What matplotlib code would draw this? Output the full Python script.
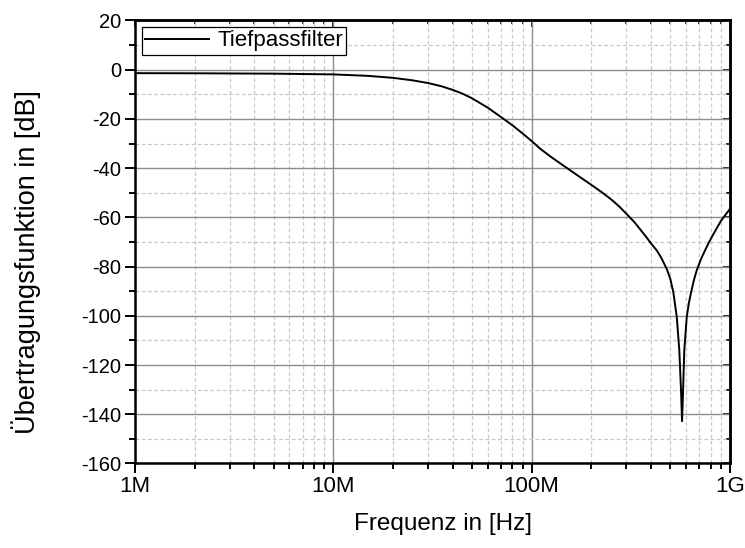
import matplotlib
matplotlib.use("Agg")
import matplotlib.pyplot as plt
from matplotlib.ticker import LogLocator, FixedLocator, FixedFormatter, MultipleLocator, NullFormatter

plt.rcParams["font.family"] = ["Liberation Sans", "DejaVu Sans"]
plt.rcParams["axes.unicode_minus"] = False

# Werte (Frequenz in Hz, Betrag in dB)
freq_hz = [1e6, 2e6, 5e6, 1e7, 1.5e7, 2e7, 2.5e7, 3e7, 3.5e7, 4e7, 4.5e7, 5e7,
           6e7, 7e7, 8e7, 9e7, 1e8, 1.1e8, 1.25e8, 1.46e8, 1.7e8, 2e8, 2.25e8,
           2.5e8, 2.75e8, 3e8, 3.3e8, 3.55e8, 3.8e8, 4e8, 4.27e8, 4.5e8, 4.8e8,
           5.0e8, 5.18e8, 5.39e8, 5.55e8, 5.66e8, 5.73e8, 5.8e8, 5.88e8, 6.05e8,
           6.2e8, 6.41e8, 6.6e8, 6.79e8, 7.1e8, 7.42e8, 7.8e8, 8.18e8, 9e8, 1e9]
gain_db = [-1.4, -1.45, -1.6, -1.9, -2.5, -3.3, -4.3, -5.4, -6.7, -8.2, -9.8, -11.6,
           -15.4, -19.2, -22.6, -25.9, -29.0, -32.0, -35.4, -39.2, -42.9, -46.8, -49.7,
           -52.5, -55.4, -58.5, -62.0, -65.2, -68.2, -70.6, -73.4, -76.4, -81.0,
           -85.0, -90.5, -100.5, -114.0, -130.0, -142.8, -130.0, -114.0, -100.5,
           -94.8, -89.3, -85.0, -81.6, -77.4, -74.0, -70.4, -67.3, -61.4, -56.5]

xticks = [1e6, 1e7, 1e8, 1e9]
xticklabels = ["1M", "10M", "100M", "1G"]
series_name = "Tiefpassfilter"

fig = plt.figure(figsize=(7.45, 5.48), dpi=100)
ax = fig.add_axes([0.1812, 0.1542, 0.7987, 0.8084])

ax.semilogx(freq_hz, gain_db, color="black", lw=1.4, label=series_name)

ax.set_xlim(1e6, 1e9)
ax.set_ylim(-160, 20)
ax.xaxis.set_major_locator(FixedLocator(xticks))
ax.xaxis.set_major_formatter(FixedFormatter(xticklabels))
ax.xaxis.set_minor_locator(LogLocator(base=10, subs=range(2, 10), numticks=20))
ax.xaxis.set_minor_formatter(NullFormatter())
ax.yaxis.set_major_locator(MultipleLocator(20))
ax.yaxis.set_minor_locator(MultipleLocator(10))

ax.grid(which="major", color="#8c8c8c", lw=1.0, ls="-")
ax.grid(which="minor", color="#c8c8c8", lw=0.9, ls=(0, (3, 2)))
ax.set_axisbelow(True)

for s in ax.spines.values():
    s.set_linewidth(1.8)

ax.tick_params(which="both", direction="out", width=1.4)
ax.tick_params(axis="x", labelsize=16, pad=2)
ax.tick_params(axis="y", labelsize=14.5, pad=3)
ax.tick_params(which="major", length=7)
ax.tick_params(which="minor", length=4)

# oben/rechts: kurze Striche nach innen, ohne Beschriftung
top = ax.secondary_xaxis("top", functions=(lambda v: v, lambda v: v))
top.xaxis.set_major_locator(FixedLocator(xticks))
top.xaxis.set_minor_locator(LogLocator(base=10, subs=range(2, 10), numticks=20))
top.tick_params(which="both", direction="in", labeltop=False, width=1.2)
top.tick_params(which="major", length=5)
top.tick_params(which="minor", length=3)
top.xaxis.set_major_formatter(NullFormatter())
top.xaxis.set_minor_formatter(NullFormatter())
top.spines["top"].set_linewidth(1.8)

right = ax.secondary_yaxis("right", functions=(lambda v: v, lambda v: v))
right.yaxis.set_major_locator(MultipleLocator(20))
right.yaxis.set_minor_locator(MultipleLocator(10))
right.tick_params(which="both", direction="in", labelright=False, width=1.2)
right.tick_params(which="major", length=5)
right.tick_params(which="minor", length=3)
right.spines["right"].set_linewidth(1.8)

ax.set_xlabel("Frequenz in [Hz]", fontsize=17.5)
ax.set_ylabel("Übertragungsfunktion in [dB]", fontsize=19.5)
ax.xaxis.set_label_coords(0.518, -0.112)
ax.yaxis.set_label_coords(-0.158, 0.455)

leg = ax.legend(loc="upper left", fontsize=16, frameon=True, fancybox=False,
                borderpad=0.15, handlelength=2.9, handletextpad=0.35,
                borderaxespad=0.3)
leg.get_frame().set_edgecolor("black")
leg.get_frame().set_linewidth(0.9)
leg.get_frame().set_alpha(1)

fig.savefig("out.png", dpi=100)
